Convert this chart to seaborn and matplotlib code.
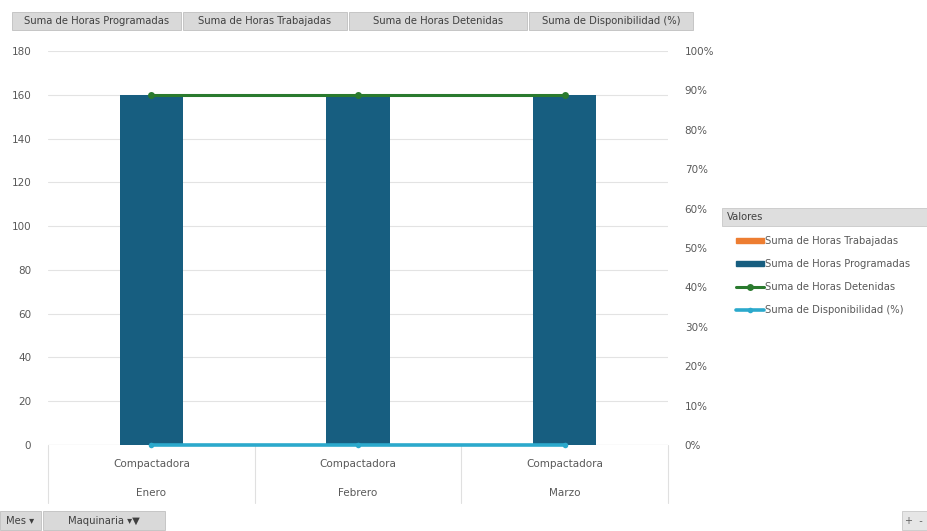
import pandas as pd
import numpy as np
import matplotlib.pyplot as plt
import seaborn as sns
from matplotlib.patches import Rectangle, Patch
from matplotlib.ticker import PercentFormatter

# Pivot chart data
meses = ['Enero', 'Febrero', 'Marzo']
maquinas = ['Compactadora', 'Compactadora', 'Compactadora']
horas_programadas = [160, 160, 160]
horas_trabajadas = [0, 0, 0]
horas_detenidas = [160, 160, 160]
disponibilidad = [0.0, 0.0, 0.0]

left_ticks = [0, 20, 40, 60, 80, 100, 120, 140, 160, 180]
right_ticks = [0, 0.1, 0.2, 0.3, 0.4, 0.5, 0.6, 0.7, 0.8, 0.9, 1.0]
botones = ['Suma de Horas Programadas', 'Suma de Horas Trabajadas',
           'Suma de Horas Detenidas', 'Suma de Disponibilidad (%)']

data = pd.DataFrame({'Mes': meses, 'Maquinaria': maquinas,
                     'Programadas': horas_programadas,
                     'Trabajadas': horas_trabajadas,
                     'Detenidas': horas_detenidas,
                     'Disponibilidad': disponibilidad})
data['pos'] = np.arange(len(data))

sns.set_style('white')
plt.rcParams['font.family'] = ['Liberation Sans Narrow', 'DejaVu Sans']
txt = '#595959'
c_blue = '#175e80'
c_orange = '#ed7d31'
c_green = '#2a7a2e'
c_cyan = '#2ba9cc'

fig = plt.figure(figsize=(9.27, 5.31), dpi=100)
ax = fig.add_axes([48 / 927, 86 / 531, 620 / 927, 394 / 531])

sns.barplot(data=data, x='pos', y='Trabajadas', color=c_orange, width=0.305,
            saturation=1, linewidth=0, ax=ax)
sns.barplot(data=data, x='pos', y='Programadas', color=c_blue, width=0.305,
            saturation=1, linewidth=0, ax=ax)
sns.lineplot(data=data, x='pos', y='Detenidas', color=c_green, lw=2.2,
             marker='o', markersize=5, markeredgewidth=0, ax=ax,
             label='Suma de Horas Detenidas')

ax2 = ax.twinx()
sns.lineplot(data=data, x='pos', y='Disponibilidad', color=c_cyan, lw=2.6,
             marker='o', markersize=4, markeredgewidth=0, ax=ax2,
             label='Suma de Disponibilidad (%)', clip_on=False)

ax.set_xlim(-0.5, 2.5)
ax.set_ylim(0, 180)
ax.set_yticks(left_ticks)
ax2.set_ylim(0, 1)
ax2.set_yticks(right_ticks)
ax2.yaxis.set_major_formatter(PercentFormatter(1.0, decimals=0))

ax.grid(axis='y', color='#e3e3e3', lw=0.8)
ax.set_axisbelow(True)
for a in (ax, ax2):
    for s in a.spines.values():
        s.set_visible(False)
    a.set_xlabel('')
    a.set_ylabel('')
    a.tick_params(length=0, labelsize=7.5, colors=txt)
ax.tick_params(axis='y', pad=12)
ax2.tick_params(axis='y', pad=12)
ax.axhline(0, color='#d0d0d0', lw=0.8, zorder=0)

# two-level category labels
ax.set_xticks(data['pos'])
ax.set_xticklabels(data['Maquinaria'])
ax.tick_params(axis='x', pad=10)
trans = ax.get_xaxis_transform()
for p, m in zip(data['pos'], data['Mes']):
    ax.text(p, -0.122, m, transform=trans, ha='center', va='center',
            fontsize=7.5, color=txt)
for sep in np.arange(-0.5, len(data), 1.0):
    ax.plot([sep, sep], [0, -0.148], transform=trans, color='#e0e0e0',
            lw=0.8, clip_on=False)

# legend
h1, l1 = ax.get_legend_handles_labels()
h2, l2 = ax2.get_legend_handles_labels()
ax.get_legend().remove()
ax2.get_legend().remove()
handles = [Patch(color=c_orange), Patch(color=c_blue), h1[0], h2[0]]
labels = ['Suma de Horas Trabajadas', 'Suma de Horas Programadas'] + l1 + l2
leg = fig.legend(handles, labels, loc='upper left',
                 bbox_to_anchor=(732 / 927, 1 - 232 / 531), frameon=False,
                 fontsize=7.2, labelcolor=txt, handlelength=2.8,
                 handleheight=0.45, handletextpad=0.1, labelspacing=1.3,
                 borderaxespad=0)
fig.patches.append(Rectangle((722 / 927, 1 - 226 / 531), 205 / 927, 18 / 531,
                             transform=fig.transFigure, facecolor='#dedede',
                             edgecolor='#c8c8c8', lw=0.6))
fig.text(727 / 927, 1 - 217 / 531, 'Valores', fontsize=7.2, color='#404040',
         va='center')

# field buttons on top
edges = [12, 183, 349, 529, 695]
for i, b in enumerate(botones):
    x0, x1 = edges[i], edges[i + 1]
    fig.patches.append(Rectangle((x0 / 927, 1 - 30 / 531), (x1 - x0 - 2) / 927,
                                 18 / 531, transform=fig.transFigure,
                                 facecolor='#d9d9d9', edgecolor='#bfbfbf',
                                 lw=0.6))
    fig.text((x0 + x1 - 2) / 2 / 927, 1 - 21 / 531, b, fontsize=7.2,
             color='#404040', ha='center', va='center')

# field buttons on bottom
for x0, x1, lab in [(0, 41, 'Mes \u25be'), (43, 165, 'Maquinaria \u25be\u25bc')]:
    fig.patches.append(Rectangle((x0 / 927, 1 - 530 / 531), (x1 - x0) / 927,
                                 19 / 531, transform=fig.transFigure,
                                 facecolor='#d9d9d9', edgecolor='#bfbfbf',
                                 lw=0.6))
    fig.text((x0 + x1) / 2 / 927, 1 - 521 / 531, lab, fontsize=7.2,
             color='#404040', ha='center', va='center')
fig.patches.append(Rectangle((902 / 927, 1 - 530 / 531), 25 / 927, 19 / 531,
                             transform=fig.transFigure, facecolor='#e6e6e6',
                             edgecolor='#c8c8c8', lw=0.6))
fig.text(914 / 927, 1 - 521 / 531, '+  -', fontsize=7, color='#606060',
         ha='center', va='center')

fig.savefig('out.png', dpi=100, facecolor='white')
